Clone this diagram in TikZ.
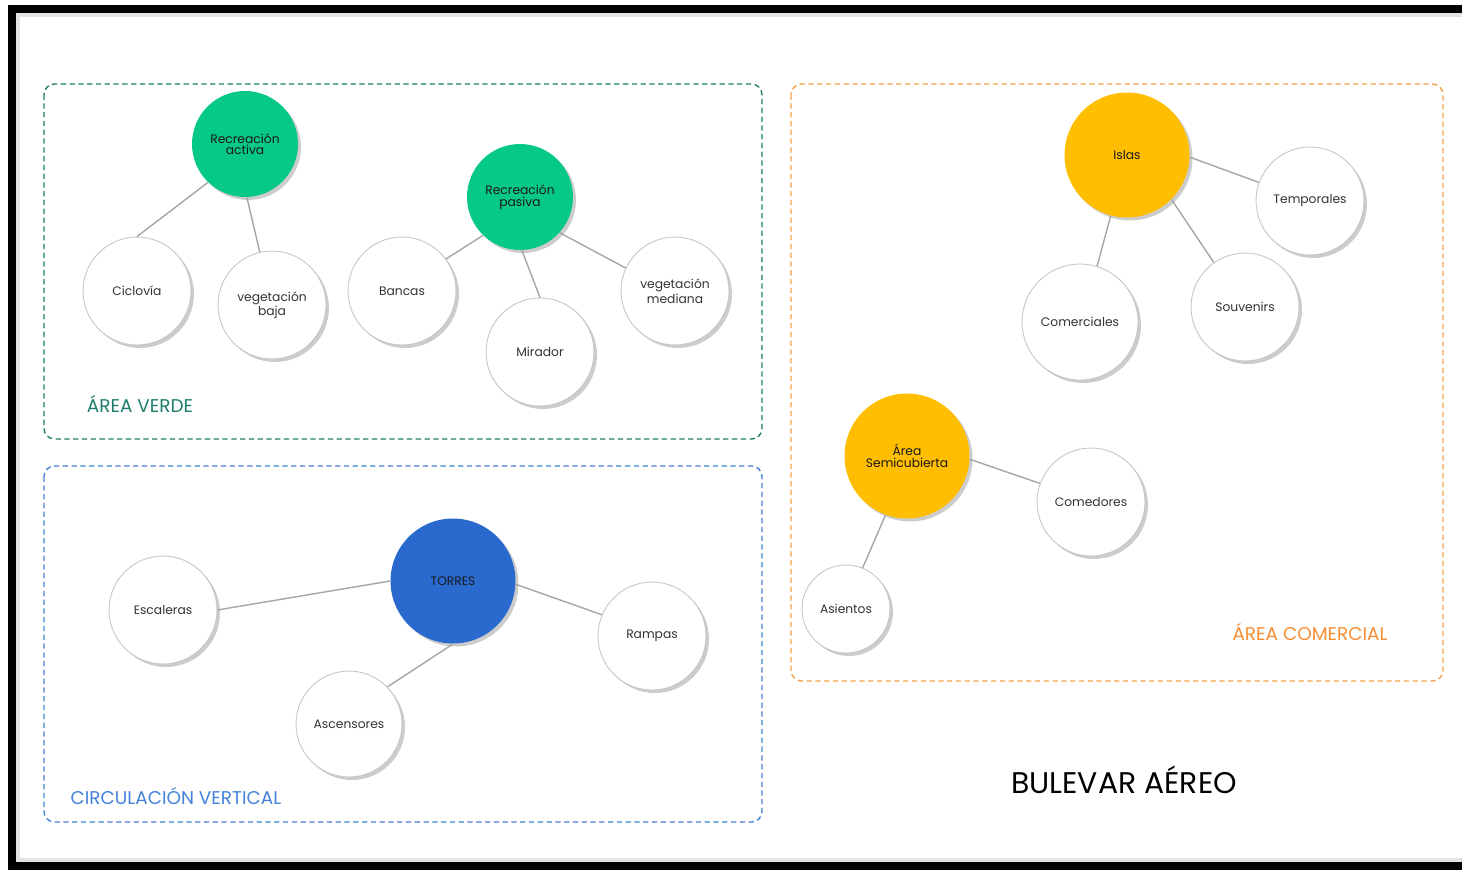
\documentclass[tikz,border=0pt]{standalone}
\usepackage{fontspec}
\setmainfont{Poppins}
\usepackage{tikz}
\usetikzlibrary{shadows, positioning}

\definecolor{verde}{HTML}{07C987}
\definecolor{verdeosc}{HTML}{1E7D6B}
\definecolor{azul}{HTML}{2A6ACF}
\definecolor{azulclaro}{HTML}{4382DA}
\definecolor{amarillo}{HTML}{FFBE00}
\definecolor{naranja}{HTML}{F7A24A}
\definecolor{naranjatxt}{HTML}{F78E33}
\definecolor{lineagris}{HTML}{A6A6A6}

\begin{document}
\begin{tikzpicture}[x=0.02cm, y=-0.02cm]

    % Styles
    \tikzset{
        burbuja/.style={circle, draw=gray!45, line width=0.5pt, fill=white, inner sep=0pt,
            minimum size=2.16cm, align=center, text=black!80,
            font=\fontsize{7}{6.6}\selectfont,
            drop shadow={shadow xshift=0.06cm, shadow yshift=-0.06cm, opacity=0.2, fill=black}},
        principal/.style={burbuja, draw=none, minimum size=2.5cm, text=black!90},
        enlace/.style={draw=lineagris, line width=0.8pt},
        zona/.style={dashed, dash pattern=on 3pt off 2pt, line width=0.8pt, rounded corners=6pt},
        titulo/.style={font=\fontsize{10.5}{12}\selectfont, inner sep=0pt}
    }

    \useasboundingbox (0,0) rectangle (1462,869);

    % Frame
    \draw[gray!22, line width=2.5pt] (1480,15) -- (18,15) -- (18,860) -- (1480,860);
    \draw[black, line width=0.16cm] (1480,8.5) -- (12,8.5) -- (12,865.5) -- (1480,865.5);

    % Zones
    \draw[zona, verdeosc] (44,84) rectangle (762,439);
    \draw[zona, azulclaro] (44,466) rectangle (762,822);
    \draw[zona, naranja] (791,84) rectangle (1443,681);

    % Area verde
    \node[principal, fill=verde, minimum size=2.12cm] (activa) at (245,144) {Recreación\\activa};
    \node[burbuja] (ciclovia) at (137,291) {Ciclovía};
    \node[burbuja] (vegbaja) at (272,305) {vegetación\\baja};
    \node[principal, fill=verde, minimum size=2.12cm] (pasiva) at (520,197) {Recreación\\pasiva};
    \node[burbuja] (bancas) at (402,291) {Bancas};
    \node[burbuja] (mirador) at (540,352) {Mirador};
    \node[burbuja] (vegmed) at (675,291) {vegetación\\mediana};

    % Circulacion vertical
    \node[principal, fill=azul] (torres) at (453,581) {TORRES};
    \node[burbuja] (escaleras) at (163,610) {Escaleras};
    \node[burbuja] (rampas) at (652,636) {Rampas};
    \node[burbuja, minimum size=2.12cm] (ascensores) at (349,724) {Ascensores};

    % Area comercial
    \node[principal, fill=amarillo] (islas) at (1127,155) {Islas};
    \node[burbuja] (temporales) at (1310,201) {Temporales};
    \node[burbuja, minimum size=2.32cm] (comerciales) at (1080,322) {Comerciales};
    \node[burbuja] (souvenirs) at (1245,307) {Souvenirs};
    \node[principal, fill=amarillo] (semicub) at (907,456) {Área\\Semicubierta};
    \node[burbuja] (comedores) at (1091,502) {Comedores};
    \node[burbuja, minimum size=1.76cm] (asientos) at (846,609) {Asientos};

    % Links
    \foreach \a/\b in {activa.226/ciclovia.north, activa.-88/vegbaja.103,
        pasiva.226/bancas.36, pasiva.-88/mirador.north, pasiva.-42/vegmed.155,
        torres.west/escaleras.east, torres.-3/rampas.157, torres.south/ascensores.44,
        islas.-2/temporales.160, islas.-105/comerciales.73, islas.-45/souvenirs.125,
        semicub.-3/comedores.160, semicub.-110/asientos.68} {
        \draw[enlace] (\a) -- (\b);
    }

    % Titles
    \node[titulo, text=verdeosc] (tverde) at (140,404) {ÁREA VERDE};
    \node[titulo, text=azulclaro] (tcirc) at (176,796) {CIRCULACIÓN VERTICAL};
    \node[titulo, text=naranjatxt] (tcom) at (1310,632) {ÁREA COMERCIAL};
    \node[font=\fontsize{17}{20}\selectfont, inner sep=0pt] (bulevar) at (1124,780) {BULEVAR AÉREO};

\end{tikzpicture}
\end{document}
